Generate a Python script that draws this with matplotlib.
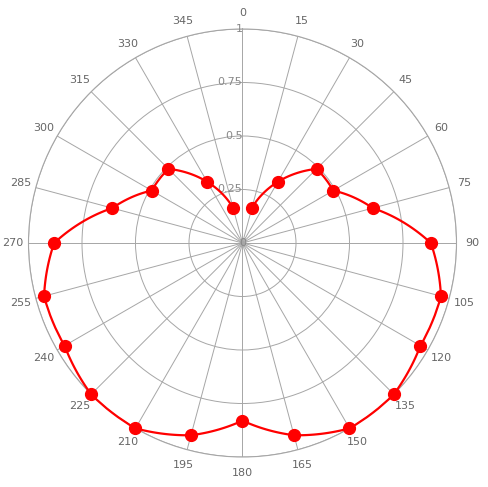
# polar chart of a directional response, 15..345 degrees
import numpy as np
import matplotlib.pyplot as plt

# data
angles_deg = [15, 30, 45, 60, 75, 90, 105, 120, 135, 150, 165, 180,
              195, 210, 225, 240, 255, 270, 285, 300, 315, 330, 345]
values = [0.17, 0.33, 0.49, 0.49, 0.63, 0.88, 0.96, 0.96, 1.0, 1.0, 0.93, 0.83,
          0.93, 1.0, 1.0, 0.96, 0.96, 0.88, 0.63, 0.49, 0.49, 0.33, 0.17]
spoke_labels = [str(a) for a in range(0, 360, 15)]
radial_ticks = [0.25, 0.5, 0.75, 1]
radial_labels = ['0.25', '0.5', '0.75', '1']

grid_col = '#a6a6a6'
text_col = '#666666'

fig = plt.figure(figsize=(4.89, 4.87), dpi=100)
ax = fig.add_axes([28.5 / 489, 30 / 487, 428 / 489, 428 / 487], projection='polar')

ax.set_theta_zero_location('N')
ax.set_theta_direction(-1)
ax.set_ylim(0, 1)

# spokes and angle labels
ax.set_xticks(np.deg2rad(np.arange(0, 360, 15)))
ax.set_xticklabels(spoke_labels, color=text_col, fontsize=8)
ax.tick_params(axis='x', pad=1)

# rings, labels drawn by hand left of the 0 spoke
ax.set_yticks(radial_ticks)
ax.set_yticklabels([])
for r, lab in zip(radial_ticks, radial_labels):
    ax.text(0, r, lab, ha='right', va='center', color='#888888', fontsize=8)
ax.text(0, 0, '0', ha='center', va='center', color='#888888', fontsize=8)

ax.grid(True, color=grid_col, linewidth=0.7)
ax.spines['polar'].set_color(grid_col)
ax.spines['polar'].set_linewidth(0.8)

theta = np.deg2rad(angles_deg)
# line follows the polar arcs between points, like the reference
line, = ax.plot(theta, values, color='red', linewidth=1.6, zorder=5, clip_on=False)
line.get_path()._interpolation_steps = 40
ax.plot(theta, values, linestyle='none', marker='o', color='red',
        markersize=8.5, zorder=6, clip_on=False)

plt.savefig('out.png', dpi=100)
